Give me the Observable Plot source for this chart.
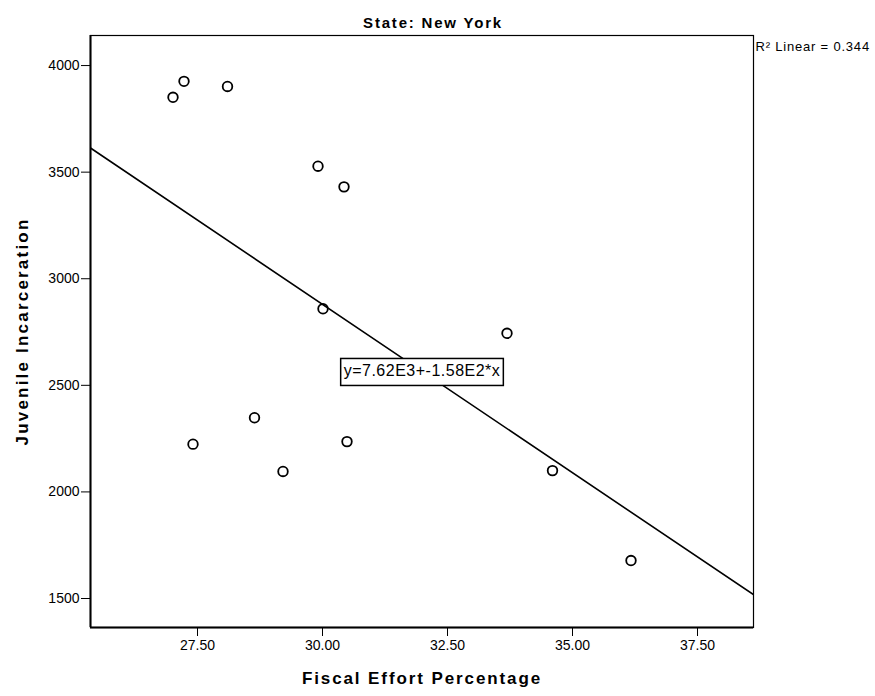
<!DOCTYPE html>
<html>
<head>
<meta charset="utf-8">
<script src="https://cdn.jsdelivr.net/npm/d3@7"></script>
<script src="https://cdn.jsdelivr.net/npm/@observablehq/plot@0.6"></script>
<style>
  html, body { margin: 0; padding: 0; background: #fff; }
  svg { font-family: "Liberation Sans", Arial, sans-serif; }
</style>
</head>
<body>
<div id="chart"></div>
<script>
// ---- data ----
const fiscalEffort  = [27.01, 27.23, 28.10, 29.91, 30.43, 30.01, 33.69, 28.64, 27.41, 30.49, 29.21, 34.60, 36.17];
const incarceration = [3851, 3926, 3902, 3528, 3431, 2859, 2744, 2348, 2224, 2236, 2096, 2100, 1678];
const xTicks = [27.5, 30, 32.5, 35, 37.5];
const yTicks = [1500, 2000, 2500, 3000, 3500, 4000];
const xDomain = [25.36, 38.62];
const yDomain = [1364, 4141];
const fitIntercept = 7620;
const fitSlope = -158;
const equationLabel = "y=7.62E3+-1.58E2*x";
const r2Label = "R\u00B2 Linear = 0.344";
const titleText = "State: New York";
const xLabel = "Fiscal Effort Percentage";
const yLabel = "Juvenile Incarceration";

const points = fiscalEffort.map((x, i) => ({x, y: incarceration[i]}));
const fitLine = xDomain.map(x => ({x, y: fitIntercept + fitSlope * x}));
const midX = (xDomain[0] + xDomain[1]) / 2;
const eqPos = [{x: midX, y: fitIntercept + fitSlope * midX, text: equationLabel}];

const chart = Plot.plot({
  width: 875,
  height: 696,
  marginLeft: 90,
  marginRight: 122,
  marginTop: 35,
  marginBottom: 69,
  style: {color: "#000", background: "#fff", fontSize: "14px", overflow: "visible"},
  x: {domain: xDomain, ticks: xTicks, tickFormat: d => d.toFixed(2), tickSize: 9, tickPadding: 4, label: null},
  y: {domain: yDomain, ticks: yTicks, tickFormat: d => String(d), tickSize: 9, tickPadding: 2, label: null},
  marks: [
    Plot.frame({stroke: "#000", strokeWidth: 1.2}),
    Plot.ruleX([xDomain[0]], {stroke: "#000", strokeWidth: 2}),
    Plot.ruleY([yDomain[0]], {stroke: "#000", strokeWidth: 2}),
    Plot.line(fitLine, {x: "x", y: "y", stroke: "#000", strokeWidth: 1.6, clip: true}),
    Plot.dot(points, {x: "x", y: "y", r: 4.8, stroke: "#000", strokeWidth: 1.8, fill: "none"}),
    Plot.text(eqPos, {x: "x", y: "y", text: "text", fontSize: 16, fill: "#000"}),
    Plot.text([titleText], {text: d => d, frameAnchor: "top", dx: 11, dy: -18, fontSize: 15, fontWeight: "bold", fill: "#000"}),
    Plot.text([r2Label], {text: d => d, frameAnchor: "top-right", textAnchor: "start", dx: 2, dy: 6, fontSize: 13, fill: "#000"}),
    Plot.text([xLabel], {text: d => d, frameAnchor: "bottom", dy: 56, fontSize: 17, fontWeight: "bold", fill: "#000"}),
    Plot.text([yLabel], {text: d => d, frameAnchor: "left", textAnchor: "middle", dx: -68, rotate: -90, fontSize: 17, fontWeight: "bold", fill: "#000"})
  ]
});

document.getElementById("chart").appendChild(chart);

const spacing = new Map([
  [titleText, "1.8px"],
  [xLabel, "1.9px"],
  [yLabel, "2.2px"],
  [r2Label, "0.8px"],
  [equationLabel, "0.5px"]
]);
d3.select(chart).selectAll("text").each(function() {
  const t = this.textContent;
  if (spacing.has(t)) this.style.letterSpacing = spacing.get(t);
});

// white box with border behind the equation label
d3.select(chart).selectAll("text").filter(function() { return this.textContent === equationLabel; }).each(function() {
  const bb = this.getBBox();
  const padX = 3, padY = 6;
  const rect = document.createElementNS("http://www.w3.org/2000/svg", "rect");
  const tf = this.getAttribute("transform");
  if (tf) rect.setAttribute("transform", tf);
  rect.setAttribute("x", bb.x - padX);
  rect.setAttribute("y", bb.y - padY + 2);
  rect.setAttribute("width", bb.width + 2 * padX);
  rect.setAttribute("height", bb.height + 2 * padY - 2);
  rect.setAttribute("fill", "#fff");
  rect.setAttribute("stroke", "#000");
  rect.setAttribute("stroke-width", "1.5");
  this.parentNode.insertBefore(rect, this);
});
</script>
</body>
</html>
